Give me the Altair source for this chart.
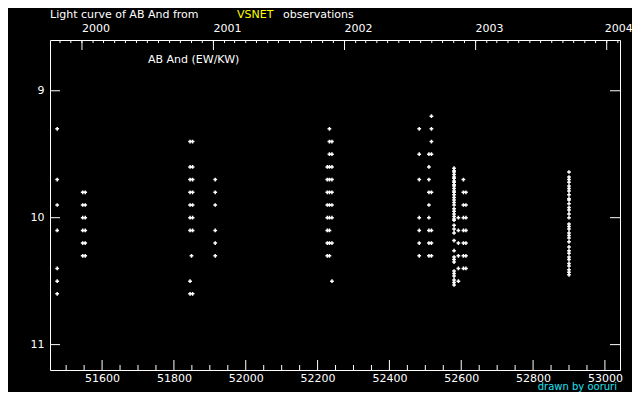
import altair as alt
import pandas as pd
import numpy as np

# ---- observations: one column of points per (MJD) observation night ----
col_mjd = [51475, 51546, 51553, 51845, 51849, 51852, 51915,
           52227, 52233, 52240, 52483, 52510, 52517,
           52580, 52592, 52606, 52613, 52900]
col_mags = [
    [9.3, 9.7, 9.9, 10.1, 10.4, 10.5, 10.6],
    [9.8, 9.9, 10.0, 10.1, 10.2, 10.3],
    [9.8, 9.9, 10.0, 10.1, 10.2, 10.3],
    [9.4, 9.6, 9.7, 9.8, 9.9, 10.0, 10.1, 10.5, 10.6],
    [10.3],
    [9.4, 9.6, 9.7, 9.8, 9.9, 10.0, 10.1, 10.6],
    [9.7, 9.8, 9.9, 10.1, 10.2, 10.3],
    [9.6, 9.7, 9.8, 9.9, 10.0, 10.1, 10.2, 10.3],
    [9.3, 9.4, 9.5, 9.6, 9.7, 9.8, 9.9, 10.0, 10.1, 10.2, 10.3],
    [9.4, 9.5, 9.6, 9.7, 9.8, 9.9, 10.0, 10.2, 10.5],
    [9.3, 9.5, 9.7, 10.0, 10.1, 10.2, 10.3],
    [9.5, 9.6, 9.7, 9.8, 9.9, 10.0, 10.1, 10.2, 10.3],
    [9.2, 9.3, 9.4, 9.5, 9.8, 10.1, 10.2, 10.3],
    [9.61, 9.63, 9.64, 9.66, 9.68, 9.69, 9.71, 9.72, 9.74, 9.75, 9.77, 9.79,
     9.80, 9.82, 9.84, 9.86, 9.88, 9.90, 9.93, 9.95, 9.97, 9.99, 10.01, 10.02,
     10.06, 10.09, 10.12, 10.18, 10.26, 10.31, 10.33, 10.35, 10.42, 10.44,
     10.46, 10.49, 10.51, 10.53],
    [10.0, 10.1, 10.2, 10.3, 10.4, 10.5],
    [9.7, 9.8, 9.9, 10.0, 10.1, 10.2, 10.3, 10.4],
    [9.8, 9.9, 10.0, 10.1, 10.2, 10.3, 10.4],
    [9.64, 9.68, 9.70, 9.72, 9.75, 9.77, 9.79, 9.82, 9.85, 9.86, 9.89, 9.92,
     9.94, 9.97, 10.00, 10.05, 10.07, 10.09, 10.12, 10.14, 10.16, 10.19,
     10.23, 10.26, 10.28, 10.31, 10.33, 10.36, 10.38, 10.41, 10.43, 10.45],
]

# ---- axis tick values / labels ----
mjd_labels = [51600, 51800, 52000, 52200, 52400, 52600, 52800, 53000]
mjd_minor = list(range(51500, 53001, 50))
mag_labels = [9, 10, 11]
year_names = ["2000", "2001", "2002", "2003", "2004"]

rows = [(m, v) for m, vals in zip(col_mjd, col_mags) for v in vals]
obs = pd.DataFrame(rows, columns=["mjd", "mag"])

months = pd.date_range("1999-11-01", "2004-02-01", freq="MS")
month_mjd = (months - pd.Timestamp("1858-11-17")).days
month_df = pd.DataFrame({"mjd": month_mjd})
year_df = pd.DataFrame({"mjd": [d for d, t in zip(month_mjd, months) if t.month == 1]})
year_df["label"] = year_names

W, H = 570, 330
FONT = "DejaVu Sans"
FS = 11
xs = alt.Scale(domain=[51455, 53042], nice=False, zero=False)
ys = alt.Scale(domain=[8.6, 11.2], nice=False, zero=False, reverse=True)
xaxis = alt.Axis(values=mjd_labels, ticks=False, domain=False, grid=False, title=None,
                 labelColor="white", labelFont=FONT, labelFontSize=FS, labelPadding=2,
                 format="d")
yaxis = alt.Axis(values=mag_labels, ticks=False, domain=False, grid=False, title=None,
                 labelColor="white", labelFont=FONT, labelFontSize=FS, labelPadding=6)

def X():
    return alt.X("mjd:Q", scale=xs, axis=xaxis)

def Y():
    return alt.Y("mag:Q", scale=ys, axis=yaxis)

points = alt.Chart(obs).mark_point(
    shape="cross", filled=True, size=14, color="white", opacity=1, strokeWidth=0
).encode(x=X(), y=Y())

major_df = pd.DataFrame({"mjd": mjd_labels})
minor_df = pd.DataFrame({"mjd": [m for m in mjd_minor if m not in mjd_labels]})
mag_df = pd.DataFrame({"mag": mag_labels})

def xrule(df, y1, y2):
    return alt.Chart(df).mark_rule(color="white", strokeWidth=1).encode(
        x=X(), y=alt.value(y1), y2=alt.value(y2))

bot_major = xrule(major_df, H, H - 10)
bot_minor = xrule(minor_df, H, H - 5)
top_major = xrule(year_df, 0, 10)
top_minor = xrule(month_df, 0, 3)

left_ticks = alt.Chart(mag_df).mark_rule(color="white").encode(
    y=Y(), x=alt.value(0), x2=alt.value(10))
right_ticks = alt.Chart(mag_df).mark_rule(color="white").encode(
    y=Y(), x=alt.value(W), x2=alt.value(W - 10))

year_text = alt.Chart(year_df[year_df["label"] != "2004"]).mark_text(
    align="left", baseline="middle", color="white", font=FONT, fontSize=FS
).encode(x=X(), y=alt.value(-11), text="label:N")
year_last = alt.Chart(year_df[year_df["label"] == "2004"]).mark_text(
    align="left", baseline="middle", color="white", font=FONT, fontSize=FS, dx=-2
).encode(x=X(), y=alt.value(-11), text="label:N")

def label(txt, x, y, color="white", align="left", size=FS, baseline="middle"):
    return alt.Chart(pd.DataFrame({"t": [txt]})).mark_text(
        align=align, baseline=baseline, color=color, font=FONT, fontSize=size
    ).encode(x=alt.value(x), y=alt.value(y), text="t:N")

t1 = label("Light curve of AB And from", 0, -25)
t2 = label("VSNET", 187, -25, color="#ffff00")
t3 = label("observations", 233, -25)
star = label("AB And (EW/KW)", 98, 20)
credit = label("drawn by ooruri", 567, 350, color="#22e0f0", align="right", size=10,
               baseline="alphabetic")

chart = alt.layer(
    points, bot_major, bot_minor, top_major, top_minor, left_ticks, right_ticks,
    year_text, year_last, t1, t2, t3, star, credit
).properties(
    width=W, height=H,
    autosize=alt.AutoSizeParams(type="none"),
    padding={"left": 42, "top": 32, "right": 12, "bottom": 22},
).configure(background="black").configure_view(stroke="white", strokeWidth=1)

chart.save("out.html", embed_options={"renderer": "svg", "actions": False})
